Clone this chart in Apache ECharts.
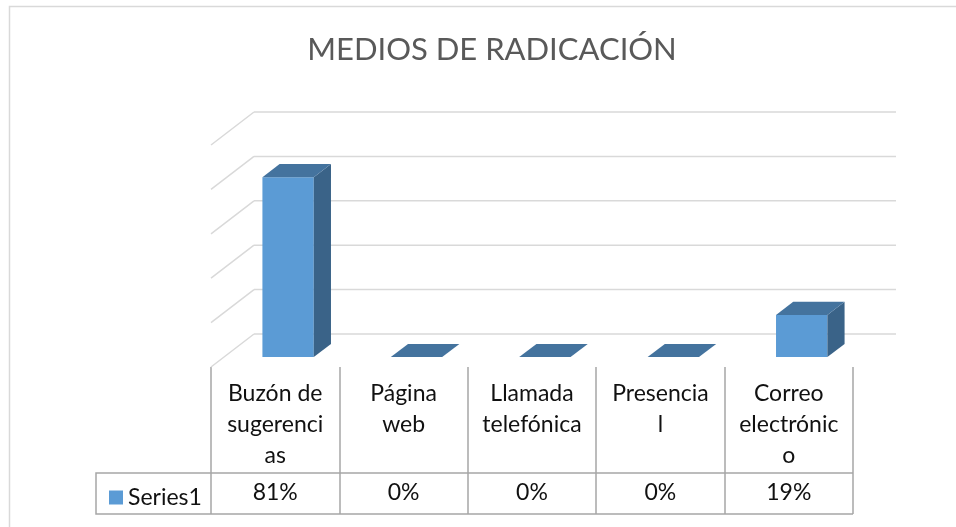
<!DOCTYPE html>
<html>
<head>
<meta charset="utf-8">
<script src="https://cdn.jsdelivr.net/npm/echarts@6/dist/echarts.min.js"></script>
<style>
  html, body { margin: 0; padding: 0; background: #fff; }
  #main { width: 956px; height: 527px; }
</style>
</head>
<body>
<div id="main"></div>
<script>
// datos
var categories = ['Buzón de sugerencias', 'Página web', 'Llamada telefónica', 'Presencial', 'Correo electrónico'];
// etiquetas tal como salen en la tabla (con los cortes de Excel)
var tableLabels = ['Buzón de\nsugerenci\nas', 'Página\nweb', 'Llamada\ntelefónica', 'Presencia\nl', 'Correo\nelectrónic\no'];
var seriesName = 'Series1';
var values = [0.81, 0, 0, 0, 0.19];
var yTicks = [0, 0.2, 0.4, 0.6, 0.8, 1.0];

// profundidad de la vista 3D (px)
var DX = 43, DY = -33;
var FONT = 'Lato, "Noto Sans", sans-serif';

var myChart = echarts.init(document.getElementById('main'));

/* barras 3D */
function renderBar(params, api) {
  var i = api.value(0);
  var v = api.value(1);
  var base = api.coord([i, 0]);
  var top = api.coord([i, v]);
  var bw = api.size([1, 0])[0];
  var w = bw * 0.4;
  var f = 0.3, d = 0.4;
  var x0 = base[0] - w / 2 + f * DX;
  var x1 = x0 + w;
  var yb = base[1] + f * DY;
  var yt = top[1] + f * DY;
  var bx = d * DX, by = d * DY;
  var children = [];
  if (yb - yt > 0.5) {
    children.push({
      type: 'polygon',
      shape: { points: [[x0, yb], [x1, yb], [x1, yt], [x0, yt]] },
      style: { fill: '#5B9BD5' }
    });
    children.push({
      type: 'polygon',
      shape: { points: [[x1, yb], [x1 + bx, yb + by], [x1 + bx, yt + by], [x1, yt]] },
      style: { fill: '#3A6388' }
    });
  }
  children.push({
    type: 'polygon',
    shape: { points: [[x0, yt], [x1, yt], [x1 + bx, yt + by], [x0 + bx, yt + by]] },
    style: { fill: '#44739E' }
  });
  return { type: 'group', children: children };
}

/* pared del fondo y lateral */
function renderWall(params, api) {
  var v = api.value(0);
  var cs = params.coordSys;
  var y = api.coord([0, v])[1];
  var style = { stroke: '#D9D9D9', lineWidth: 1.5 };
  return {
    type: 'group',
    children: [
      { type: 'line', shape: { x1: cs.x, y1: y, x2: cs.x + DX, y2: y + DY }, style: style },
      { type: 'line', shape: { x1: cs.x + DX, y1: y + DY, x2: cs.x + DX + cs.width, y2: y + DY }, style: style }
    ]
  };
}

var option = {
  title: {
    text: 'MEDIOS DE RADICACIÓN',
    left: 487,
    top: 29,
    textAlign: 'center',
    textStyle: { fontFamily: FONT, fontSize: 31, fontWeight: 'normal', color: '#595959' }
  },
  legend: {
    data: [seriesName],
    left: 104,
    top: 481,
    icon: 'rect',
    itemWidth: 14,
    itemHeight: 14,
    itemGap: 6,
    textStyle: { fontFamily: FONT, fontSize: 23, color: '#111111' }
  },
  grid: { left: 211, right: 103, top: 145, bottom: 160 },
  xAxis: [{
    type: 'category',
    data: categories,
    axisLine: { show: false },
    axisTick: { show: true, length: 147, lineStyle: { color: '#A6A6A6', width: 1.5 } },
    axisLabel: {
      interval: 0,
      margin: 11,
      fontFamily: FONT,
      fontSize: 23,
      lineHeight: 31,
      color: '#111111',
      formatter: function (val, idx) { return tableLabels[idx]; }
    }
  }, {
    type: 'category',
    data: categories,
    position: 'bottom',
    axisLine: { show: false },
    axisTick: { show: false },
    axisLabel: {
      interval: 0,
      margin: 111,
      fontFamily: FONT,
      fontSize: 23,
      lineHeight: 30,
      color: '#111111',
      formatter: function (val, idx) { return Math.round(values[idx] * 100) + '%'; }
    }
  }],
  yAxis: {
    type: 'value',
    min: 0,
    max: 1,
    interval: 0.2,
    show: false
  },
  graphic: [
    { type: 'rect', shape: { x: 9.5, y: 6.5, width: 1100, height: 700 }, style: { fill: null, stroke: '#D9D9D9', lineWidth: 1.5 }, silent: true },
    { type: 'polyline', shape: { points: [[853, 473], [96, 473], [96, 514], [853, 514]] }, style: { fill: null, stroke: '#A6A6A6', lineWidth: 1.5 }, silent: true }
  ],
  series: [{
    name: 'wall',
    type: 'custom',
    silent: true,
    z: 1,
    data: yTicks.map(function (t) { return [t]; }),
    encode: { y: 0 },
    renderItem: renderWall
  }, {
    name: seriesName,
    type: 'custom',
    z: 2,
    itemStyle: { color: '#5B9BD5' },
    data: values.map(function (v, i) { return [i, v]; }),
    encode: { x: 0, y: 1 },
    renderItem: renderBar
  }]
};
myChart.clear();
myChart.setOption(option);
</script>
</body>
</html>
